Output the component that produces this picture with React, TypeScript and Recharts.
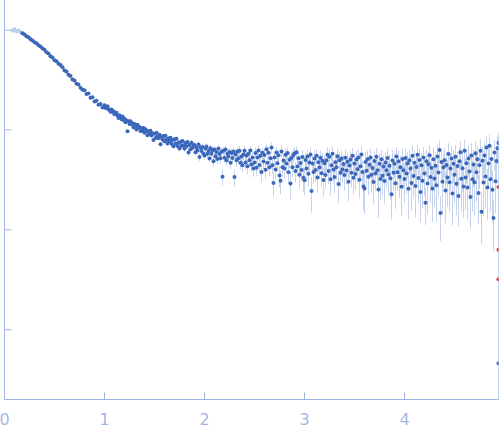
import { ScatterChart, Scatter, XAxis, YAxis, ErrorBar } from "recharts";

// scattering vector, low q part (coarser grid)
const qLow = [
  0.18, 0.2, 0.22, 0.24, 0.26, 0.28, 0.3, 0.32, 0.34, 0.36,
  0.38, 0.4, 0.42, 0.44, 0.46, 0.48, 0.5, 0.52, 0.54, 0.56,
  0.58, 0.6, 0.62, 0.64, 0.66, 0.68, 0.7, 0.72, 0.74, 0.76,
  0.78, 0.8, 0.82, 0.84, 0.86, 0.88, 0.9, 0.92, 0.94, 0.96,
  0.98,
];
const iLow = [
  927, 905, 868, 845, 810, 788, 756, 736, 705, 686,
  652, 634, 598, 581, 548, 532, 500, 487, 459, 446,
  425, 394, 384, 356, 347, 320, 313, 290, 285, 264,
  252, 249, 229, 231, 210, 212, 193, 196, 179, 182,
  168,
];
const sLow = [
  3.2, 3.1, 3.1, 3.0, 3.0, 2.9, 2.9, 2.8, 2.8, 2.7,
  2.7, 2.6, 2.6, 2.5, 2.5, 2.5, 2.4, 2.4, 2.4, 2.3,
  2.3, 2.3, 2.3, 2.2, 2.2, 2.2, 2.2, 2.2, 2.2, 2.2,
  2.2, 2.2, 2.2, 2.3, 2.3, 2.3, 2.3, 2.4, 2.4, 2.4,
  2.5,
];

// scattering vector, q >= 1 (fine grid)
const qHigh = [
  1.0, 1.01, 1.02, 1.03, 1.04, 1.05, 1.06, 1.07, 1.08, 1.09,
  1.1, 1.11, 1.12, 1.13, 1.14, 1.15, 1.16, 1.17, 1.18, 1.19,
  1.2, 1.21, 1.22, 1.23, 1.24, 1.25, 1.26, 1.27, 1.28, 1.29,
  1.3, 1.31, 1.32, 1.33, 1.34, 1.35, 1.36, 1.37, 1.38, 1.39,
  1.4, 1.41, 1.42, 1.43, 1.44, 1.45, 1.46, 1.47, 1.48, 1.49,
  1.5, 1.51, 1.52, 1.53, 1.54, 1.55, 1.56, 1.57, 1.58, 1.59,
  1.6, 1.61, 1.62, 1.63, 1.64, 1.65, 1.66, 1.67, 1.68, 1.69,
  1.7, 1.71, 1.72, 1.73, 1.74, 1.75, 1.76, 1.77, 1.78, 1.79,
  1.8, 1.81, 1.82, 1.83, 1.84, 1.85, 1.86, 1.87, 1.88, 1.89,
  1.9, 1.91, 1.92, 1.93, 1.94, 1.95, 1.96, 1.97, 1.98, 1.99,
  2.0, 2.01, 2.02, 2.03, 2.04, 2.05, 2.06, 2.07, 2.08, 2.09,
  2.1, 2.11, 2.12, 2.13, 2.14, 2.15, 2.16, 2.17, 2.18, 2.19,
  2.2, 2.21, 2.22, 2.23, 2.24, 2.25, 2.26, 2.27, 2.28, 2.29,
  2.3, 2.31, 2.32, 2.33, 2.34, 2.35, 2.36, 2.37, 2.38, 2.39,
  2.4, 2.41, 2.42, 2.43, 2.44, 2.45, 2.46, 2.47, 2.48, 2.49,
  2.5, 2.51, 2.52, 2.53, 2.54, 2.55, 2.56, 2.57, 2.58, 2.59,
  2.6, 2.61, 2.62, 2.63, 2.64, 2.65, 2.66, 2.67, 2.68, 2.69,
  2.7, 2.71, 2.72, 2.73, 2.74, 2.75, 2.76, 2.77, 2.78, 2.79,
  2.8, 2.81, 2.82, 2.83, 2.84, 2.85, 2.86, 2.87, 2.88, 2.89,
  2.9, 2.91, 2.92, 2.93, 2.94, 2.95, 2.96, 2.97, 2.98, 2.99,
  3.0, 3.01, 3.02, 3.03, 3.04, 3.05, 3.06, 3.07, 3.08, 3.09,
  3.1, 3.11, 3.12, 3.13, 3.14, 3.15, 3.16, 3.17, 3.18, 3.19,
  3.2, 3.21, 3.22, 3.23, 3.24, 3.25, 3.26, 3.27, 3.28, 3.29,
  3.3, 3.31, 3.32, 3.33, 3.34, 3.35, 3.36, 3.37, 3.38, 3.39,
  3.4, 3.41, 3.42, 3.43, 3.44, 3.45, 3.46, 3.47, 3.48, 3.49,
  3.5, 3.51, 3.52, 3.53, 3.54, 3.55, 3.56, 3.57, 3.58, 3.59,
  3.6, 3.61, 3.62, 3.63, 3.64, 3.65, 3.66, 3.67, 3.68, 3.69,
  3.7, 3.71, 3.72, 3.73, 3.74, 3.75, 3.76, 3.77, 3.78, 3.79,
  3.8, 3.81, 3.82, 3.83, 3.84, 3.85, 3.86, 3.87, 3.88, 3.89,
  3.9, 3.91, 3.92, 3.93, 3.94, 3.95, 3.96, 3.97, 3.98, 3.99,
  4.0, 4.01, 4.02, 4.03, 4.04, 4.05, 4.06, 4.07, 4.08, 4.09,
  4.1, 4.11, 4.12, 4.13, 4.14, 4.15, 4.16, 4.17, 4.18, 4.19,
  4.2, 4.21, 4.22, 4.23, 4.24, 4.25, 4.26, 4.27, 4.28, 4.29,
  4.3, 4.31, 4.32, 4.33, 4.34, 4.35, 4.36, 4.37, 4.38, 4.39,
  4.4, 4.41, 4.42, 4.43, 4.44, 4.45, 4.46, 4.47, 4.48, 4.49,
  4.5, 4.51, 4.52, 4.53, 4.54, 4.55, 4.56, 4.57, 4.58, 4.59,
  4.6, 4.61, 4.62, 4.63, 4.64, 4.65, 4.66, 4.67, 4.68, 4.69,
  4.7, 4.71, 4.72, 4.73, 4.74, 4.75, 4.76, 4.77, 4.78, 4.79,
  4.8, 4.81, 4.82, 4.83, 4.84, 4.85, 4.86, 4.87, 4.88, 4.89,
  4.9, 4.91, 4.92, 4.93, 4.94,
];
const iHigh = [
  177, 166, 170, 173, 160, 160.5, 152, 160, 151, 153.5,
  143.5, 148.4, 148.7, 139.6, 131.6, 140.6, 134, 128, 136.5, 125.4,
  129.8, 119.4, 124, 97, 122, 114.5, 122.3, 113.9, 116.9, 106.4,
  114.4, 106.6, 101.1, 112.8, 105.2, 107.1, 97.8, 103.8, 97.7, 104.6,
  93.8, 101.6, 96.9, 88.4, 97.0, 91.5, 98.1, 88.0, 92.6, 79.2,
  91.8, 83.0, 93.6, 85.8, 82.6, 89.5, 71.7, 85.3, 80.3, 86.9,
  77.2, 87.3, 80.2, 73.3, 82.3, 77.0, 83.5, 72.9, 79.3, 68.8,
  80.5, 73.1, 81.6, 69.2, 74.6, 65.3, 75.7, 69.4, 77.5, 69.9,
  65.1, 73.8, 68.5, 75.6, 59.3, 70.5, 63.9, 74.3, 66.3, 69.3,
  70.7, 59.8, 66.5, 62.2, 71.4, 53.7, 66.7, 61.7, 67.6, 57.8,
  55.5, 65.1, 68.4, 57.8, 61.7, 51.9, 65.4, 57.9, 62.4, 48.5,
  63.6, 54.5, 60.0, 51.1, 65.3, 57.5, 52.1, 60.4, 34.0, 62.0,
  52.8, 63.8, 49.7, 57.8, 54.3, 60.2, 46.8, 58.6, 52.4, 61.0,
  33.7, 56.8, 49.6, 60.8, 52.0, 61.9, 46.8, 54.1, 44.4, 56.9,
  62.0, 47.2, 55.4, 43.3, 57.7, 49.8, 62.2, 45.0, 53.0, 41.1,
  47.2, 58.9, 41.9, 53.0, 62.1, 44.6, 55.2, 37.9, 59.0, 48.2,
  56.1, 40.0, 63.9, 46.8, 59.1, 42.2, 52.0, 66.7, 44.4, 29.5,
  52.9, 40.1, 59.5, 46.3, 55.9, 34.9, 31.0, 60.9, 42.4, 49.4,
  41.2, 56.3, 46.2, 58.8, 37.8, 50.4, 29.1, 52.8, 42.4, 56.1,
  58.2, 38.7, 59.7, 43.1, 52.0, 35.5, 46.7, 39.8, 53.6, 33.2,
  31.3, 50.0, 41.0, 54.3, 36.5, 47.1, 56.8, 24.4, 46.1, 38.0,
  51.7, 39.7, 55.1, 33.4, 47.5, 42.1, 52.7, 36.8, 49.1, 31.5,
  46.3, 35.3, 49.7, 56.6, 38.7, 53.8, 32.1, 44.2, 57.6, 40.2,
  33.7, 47.4, 42.2, 54.6, 28.8, 49.8, 37.3, 51.8, 40.2, 45.7,
  35.4, 52.8, 39.2, 48.0, 30.2, 44.1, 50.5, 37.2, 55.0, 33.3,
  46.0, 36.2, 50.5, 40.3, 52.9, 31.8, 43.2, 56.8, 38.0, 27.1,
  25.9, 47.8, 39.1, 51.0, 34.0, 44.7, 53.0, 35.5, 41.7, 30.1,
  49.0, 36.6, 53.8, 39.4, 25.4, 45.8, 32.3, 51.0, 34.7, 43.1,
  30.9, 47.2, 39.5, 52.4, 35.7, 43.8, 32.9, 22.7, 49.4, 37.3,
  45.8, 29.2, 54.1, 37.6, 48.5, 33.9, 42.3, 27.0, 51.2, 39.5,
  32.2, 52.3, 36.6, 46.1, 25.7, 49.6, 41.2, 29.5, 55.1, 34.6,
  47.0, 27.5, 42.6, 56.5, 33.0, 50.1, 23.9, 44.2, 31.0, 52.9,
  36.6, 18.7, 48.6, 29.1, 45.4, 55.7, 33.8, 41.8, 25.9, 50.9,
  32.6, 43.8, 27.9, 54.1, 37.4, 62.9, 14.7, 47.8, 30.2, 42.2,
  49.8, 24.7, 44.6, 33.4, 57.3, 29.9, 41.0, 51.7, 23.1, 45.8,
  35.5, 54.0, 29.0, 43.6, 21.8, 48.5, 59.8, 32.4, 41.3, 27.2,
  61.9, 33.4, 46.5, 26.5, 51.8, 38.4, 21.3, 55.5, 32.0, 45.2,
  30.0, 58.5, 37.6, 51.0, 23.4, 44.3, 62.0, 15.2, 49.2, 29.8,
  55.5, 34.2, 66.8, 26.6, 46.2, 69.5, 32.0, 51.2, 25.2, 13.1,
  59.4, 30.6, 48.9, 65.6, 74.0,
];
const sHigh = [
  2.5, 2.5, 2.5, 2.5, 2.6, 2.6, 2.6, 2.6, 2.7, 2.7,
  2.7, 2.7, 2.7, 2.8, 2.8, 2.8, 2.8, 2.9, 2.9, 2.9,
  2.9, 2.9, 3.0, 3.0, 3.0, 3.0, 3.1, 3.1, 3.1, 3.1,
  3.1, 3.2, 3.2, 3.2, 3.2, 3.3, 3.3, 3.3, 3.3, 3.4,
  3.4, 3.4, 3.4, 3.4, 3.5, 3.5, 3.5, 3.5, 3.5, 3.6,
  3.6, 3.6, 3.6, 3.7, 3.7, 3.7, 3.8, 3.8, 3.8, 3.9,
  3.9, 3.9, 4.0, 4.0, 4.0, 4.1, 4.1, 4.2, 4.2, 4.2,
  4.3, 4.3, 4.3, 4.4, 4.4, 4.5, 4.5, 4.5, 4.6, 4.6,
  4.6, 4.7, 4.7, 4.7, 4.8, 4.8, 4.8, 4.9, 4.9, 4.9,
  5.0, 5.0, 5.0, 5.1, 5.1, 5.1, 5.2, 5.2, 5.2, 5.3,
  5.3, 5.4, 5.4, 5.4, 5.5, 5.5, 5.6, 5.6, 5.6, 5.7,
  5.7, 5.8, 5.8, 5.8, 5.9, 5.9, 6.0, 6.0, 6.0, 6.1,
  6.1, 6.2, 6.2, 6.2, 6.3, 6.3, 6.4, 6.4, 6.4, 6.5,
  6.5, 6.6, 6.6, 6.6, 6.7, 6.7, 6.8, 6.8, 6.8, 6.9,
  6.9, 7.0, 7.0, 7.0, 7.1, 7.1, 7.2, 7.2, 7.2, 7.3,
  7.3, 7.4, 7.4, 7.4, 7.5, 7.5, 7.6, 7.6, 7.6, 7.7,
  7.7, 7.8, 7.8, 7.8, 7.9, 7.9, 8.0, 8.0, 8.0, 8.1,
  8.1, 8.2, 8.2, 8.2, 8.3, 8.3, 8.4, 8.4, 8.4, 8.5,
  8.5, 8.6, 8.6, 8.6, 8.7, 8.7, 8.8, 8.8, 8.8, 8.9,
  8.9, 9.0, 9.0, 9.0, 9.1, 9.1, 9.2, 9.2, 9.2, 9.3,
  9.3, 9.3, 9.4, 9.4, 9.4, 9.5, 9.5, 9.5, 9.6, 9.6,
  9.6, 9.7, 9.7, 9.7, 9.8, 9.8, 9.8, 9.9, 9.9, 9.9,
  10.0, 10.0, 10.0, 10.1, 10.1, 10.1, 10.2, 10.2, 10.2, 10.3,
  10.3, 10.3, 10.4, 10.4, 10.4, 10.5, 10.5, 10.5, 10.6, 10.6,
  10.6, 10.7, 10.7, 10.7, 10.8, 10.8, 10.8, 10.9, 10.9, 10.9,
  11.0, 11.0, 11.1, 11.1, 11.2, 11.2, 11.3, 11.3, 11.4, 11.4,
  11.5, 11.5, 11.6, 11.6, 11.7, 11.7, 11.8, 11.8, 11.9, 11.9,
  12.0, 12.0, 12.1, 12.1, 12.2, 12.2, 12.3, 12.3, 12.4, 12.4,
  12.5, 12.5, 12.6, 12.6, 12.7, 12.7, 12.8, 10.0, 12.9, 12.9,
  13.0, 13.0, 13.1, 13.1, 13.2, 13.2, 13.3, 13.3, 13.4, 13.4,
  13.5, 13.6, 13.6, 13.7, 13.0, 13.8, 13.9, 14.0, 14.0, 14.1,
  14.2, 14.2, 14.3, 14.4, 14.4, 14.5, 12.0, 14.6, 14.7, 14.8,
  14.8, 7.5, 15.0, 15.0, 15.1, 15.2, 15.2, 15.3, 14.0, 15.4,
  15.5, 15.6, 15.6, 15.7, 15.8, 15.8, 7.0, 16.0, 16.0, 16.1,
  16.2, 13.0, 16.3, 16.4, 16.5, 15.0, 16.6, 16.7, 12.0, 16.8,
  16.9, 17.0, 15.0, 17.1, 11.0, 17.3, 17.3, 17.4, 17.5, 14.0,
  17.6, 17.7, 17.7, 14.0, 17.9, 18.0, 11.0, 18.1, 17.0, 18.3,
  16.0, 18.5, 18.5, 18.6, 12.0, 18.8, 18.8, 8.0, 19.0, 16.0,
  19.1, 18.0, 19.3, 14.0, 19.4, 19.5, 17.0, 19.6, 13.5, 7.0,
  19.9, 16.0, 20.1, 20.2, 20.3,
];

// points left out at the lowest q
const excludedQ = [0.08, 0.1, 0.12, 0.14, 0.16];
const excludedI = [985, 1020, 968, 992, 955];
const excludedSigma = [14, 40, 12, 16, 10];

// last point with a very wide error
const tailQ = [4.94];
const tailI = [0.46];
const tailErrLow = [0.26];
const tailErrHigh = [78];

// outliers flagged in red
const outlierQ = [4.94, 4.94, 4.94];
const outlierI = [26.9, 6.3, 3.2];

const xTicks = [0, 1, 2, 3, 4];
const yTicks = [1, 10, 100, 1000];

const mainData = [
  ...qLow.map((q, k) => ({ q, i: iLow[k], err: [sLow[k], sLow[k]] })),
  ...qHigh.map((q, k) => ({ q, i: iHigh[k], err: [sHigh[k], sHigh[k]] })),
  ...tailQ.map((q, k) => ({ q, i: tailI[k], err: [tailErrLow[k], tailErrHigh[k]] })),
];
const excludedData = excludedQ.map((q, k) => ({ q, i: excludedI[k], err: excludedSigma[k] }));
const outlierData = outlierQ.map((q, k) => ({ q, i: outlierI[k] }));

const AXIS = "#9fb4e3";
const LABEL = "#a3b7e6";
const BLUE = "#3b67bd";
const LIGHT = "#bccdec";
const RED = "#e0302b";
const ERR = "#c6d4ee";

const dot = (color: string) => (props: any) =>
  <circle cx={props.cx} cy={props.cy} r={2} fill={color} />;

// ticks point into the plot
const XTick = (props: any) => (
  <g>
    <line x1={props.x} x2={props.x} y1={props.y} y2={props.y - 7} stroke={AXIS} />
    <text x={props.x} y={props.y + 25} textAnchor="middle" fill={LABEL} fontSize={16} fontFamily="DejaVu Sans">
      {props.payload.value}
    </text>
  </g>
);

const YTick = (props: any) => (
  <line x1={props.x} x2={props.x + 7} y1={props.y} y2={props.y} stroke={AXIS} />
);

export default function App() {
  return (
    <div style={{ position: "absolute", left: 0, top: 0 }}>
      <ScatterChart width={500} height={437} margin={{ top: 0, right: 1.5, bottom: 0, left: 0 }}>
        <XAxis
          dataKey="q"
          type="number"
          domain={[0, 4.94]}
          ticks={xTicks}
          allowDataOverflow
          height={37.5}
          stroke={AXIS}
          tickLine={false}
          tickSize={0}
          tickMargin={0}
          tick={XTick}
        />
        <YAxis
          dataKey="i"
          type="number"
          scale="log"
          domain={[0.2, 2000]}
          ticks={yTicks}
          allowDataOverflow
          width={4.5}
          stroke={AXIS}
          tickLine={false}
          tickSize={0}
          tickMargin={0}
          tick={YTick}
        />
        <Scatter data={excludedData} isAnimationActive={false} shape={dot(LIGHT)}>
          <ErrorBar dataKey="err" direction="y" width={0} stroke={LIGHT} strokeWidth={1} />
        </Scatter>
        <Scatter data={mainData} isAnimationActive={false} shape={dot(BLUE)}>
          <ErrorBar dataKey="err" direction="y" width={0} stroke={ERR} strokeWidth={1} />
        </Scatter>
        <Scatter data={outlierData} isAnimationActive={false} shape={dot(RED)} />
      </ScatterChart>
    </div>
  );
}
